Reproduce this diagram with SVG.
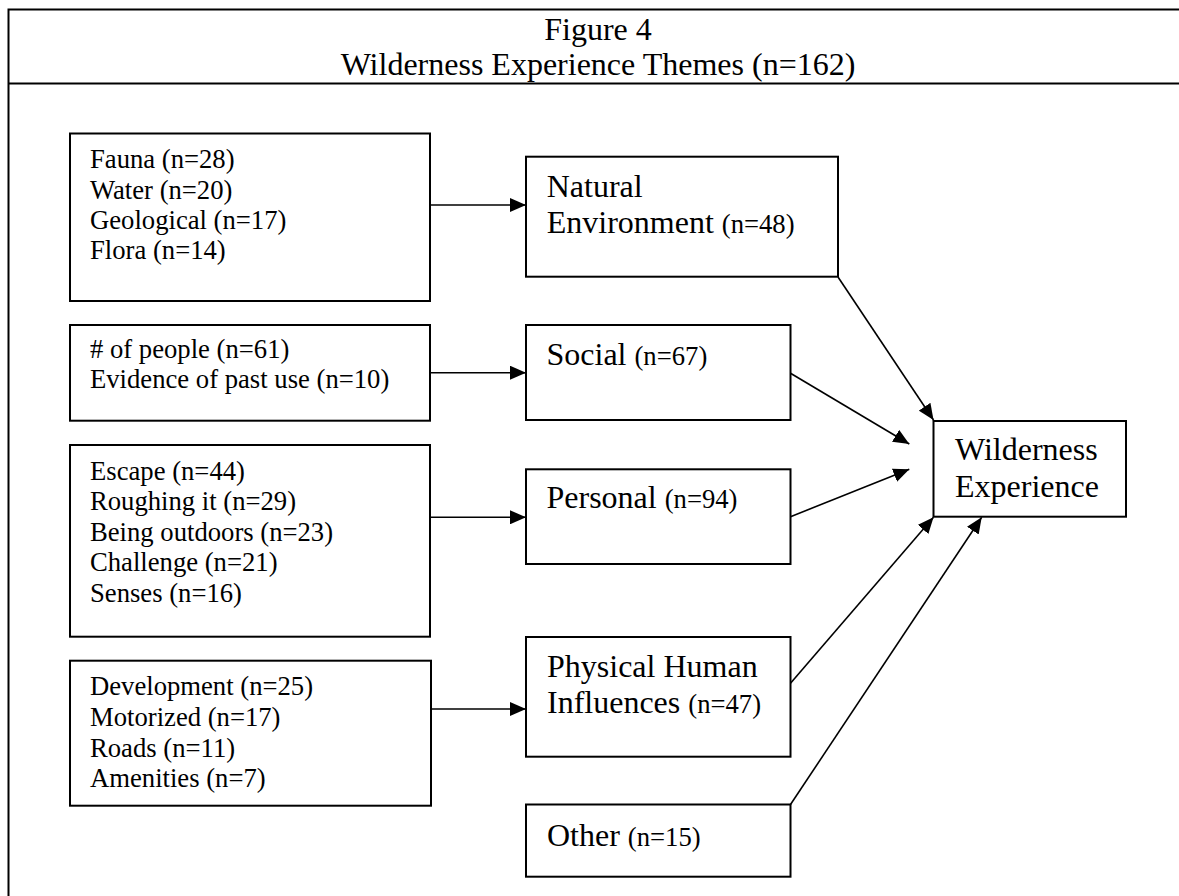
<svg xmlns="http://www.w3.org/2000/svg" width="1179" height="896" viewBox="0 0 1179 896">
<style>
  .frame { stroke: #000; stroke-width: 2; fill: none; }
  .box { fill: #fff; stroke: #000; stroke-width: 2; }
  .conn { stroke: #000; stroke-width: 1.6; fill: none; marker-end: url(#arrow); }
  .title { font-family: "Liberation Serif", "Times New Roman", serif; font-size: 32px; fill: #000; text-anchor: middle; }
  .big { font-family: "Liberation Serif", "Times New Roman", serif; font-size: 32px; fill: #000; }
  .small { font-family: "Liberation Serif", "Times New Roman", serif; font-size: 26.67px; fill: #000; }
  .n { font-size: 26.67px; }
</style>
<defs>
  <marker id="arrow" markerUnits="userSpaceOnUse" markerWidth="16" markerHeight="14" refX="16" refY="7" orient="auto">
    <path d="M0,0 L16,7 L0,14 z" fill="#000"/>
  </marker>
</defs>
<rect x="0" y="0" width="1179" height="896" fill="#fff"/>
<g id="frame">
  <path class="frame" d="M8.5,896 L8.5,9.5 L1179,9.5 M8.5,83.5 L1179,83.5"/>
  <text class="title" x="598" y="40">Figure 4</text>
  <text class="title" x="598" y="75">Wilderness Experience Themes (n=162)</text>
</g>
<g id="connectors">
  <line class="conn" x1="430" y1="205" x2="526" y2="205"/>
  <line class="conn" x1="430" y1="372.7" x2="526" y2="372.7"/>
  <line class="conn" x1="430" y1="517.3" x2="526" y2="517.3"/>
  <line class="conn" x1="431" y1="709" x2="526" y2="709"/>
  <line class="conn" x1="838" y1="277" x2="933.5" y2="420"/>
  <line class="conn" x1="790.5" y1="373.3" x2="909.3" y2="444"/>
  <line class="conn" x1="790.5" y1="516.7" x2="909.3" y2="469.3"/>
  <line class="conn" x1="790.5" y1="683.3" x2="933.5" y2="517.3"/>
  <line class="conn" x1="790.5" y1="804.5" x2="981.7" y2="517.3"/>
</g>
<g id="list-natural">
  <rect class="box" x="70" y="133.5" width="360" height="167.5"/>
  <text class="small" x="90" y="168.3">Fauna (n=28)</text>
  <text class="small" x="90" y="198.6">Water (n=20)</text>
  <text class="small" x="90" y="228.9">Geological (n=17)</text>
  <text class="small" x="90" y="259.2">Flora (n=14)</text>
</g>
<g id="list-social">
  <rect class="box" x="70" y="325" width="360" height="95.7"/>
  <text class="small" x="90" y="358.3"># of people (n=61)</text>
  <text class="small" x="90" y="388.3">Evidence of past use (n=10)</text>
</g>
<g id="list-personal">
  <rect class="box" x="70" y="445" width="360" height="191.7"/>
  <text class="small" x="90" y="480">Escape (n=44)</text>
  <text class="small" x="90" y="510.4">Roughing it (n=29)</text>
  <text class="small" x="90" y="540.8">Being outdoors (n=23)</text>
  <text class="small" x="90" y="571.2">Challenge (n=21)</text>
  <text class="small" x="90" y="601.6">Senses (n=16)</text>
</g>
<g id="list-physical">
  <rect class="box" x="70" y="660.7" width="361" height="145"/>
  <text class="small" x="90" y="695">Development (n=25)</text>
  <text class="small" x="90" y="725.8">Motorized (n=17)</text>
  <text class="small" x="90" y="756.6">Roads (n=11)</text>
  <text class="small" x="90" y="787.4">Amenities (n=7)</text>
</g>
<g id="natural-environment">
  <rect class="box" x="526" y="156.7" width="312" height="120"/>
  <text class="big" x="546.7" y="196.7">Natural</text>
  <text class="big" x="546.7" y="233.3">Environment <tspan class="n">(n=48)</tspan></text>
</g>
<g id="social">
  <rect class="box" x="526" y="325" width="264.5" height="95"/>
  <text class="big" x="546.5" y="365">Social <tspan class="n">(n=67)</tspan></text>
</g>
<g id="personal">
  <rect class="box" x="526" y="469.3" width="264.5" height="94.7"/>
  <text class="big" x="546.5" y="508.3">Personal <tspan class="n">(n=94)</tspan></text>
</g>
<g id="physical-human-influences">
  <rect class="box" x="526" y="637" width="264.5" height="119.7"/>
  <text class="big" x="547" y="676.7">Physical Human</text>
  <text class="big" x="547" y="713.3">Influences <tspan class="n">(n=47)</tspan></text>
</g>
<g id="other">
  <rect class="box" x="526" y="804.5" width="264.5" height="72.2"/>
  <text class="big" x="547" y="845.7">Other <tspan class="n">(n=15)</tspan></text>
</g>
<g id="wilderness-experience">
  <rect class="box" x="933.5" y="421" width="192.5" height="95.7"/>
  <text class="big" x="955" y="460">Wilderness</text>
  <text class="big" x="955" y="497.3">Experience</text>
</g>
</svg>
